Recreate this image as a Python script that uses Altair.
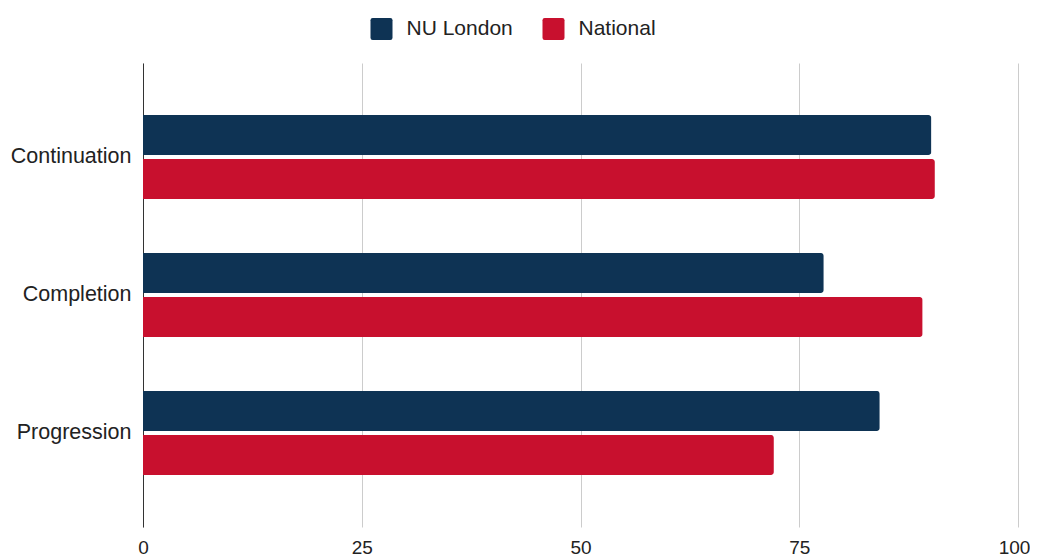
import altair as alt
import pandas as pd

categories = ["Continuation", "Completion", "Progression"]
series = ["NU London", "National"]
nu_london = [90.1, 77.8, 84.2]
national = [90.5, 89.1, 72.1]
colors = ["#0E3354", "#C8102E"]
x_ticks = [0, 25, 50, 75, 100]

rows = []
for i, c in enumerate(categories):
    rows.append({"metric": c, "series": series[0], "value": nu_london[i]})
    rows.append({"metric": c, "series": series[1], "value": national[i]})
df = pd.DataFrame(rows)

rounded_square = ("M-0.8,-1 L0.8,-1 Q1,-1 1,-0.8 L1,0.8 Q1,1 0.8,1 "
                  "L-0.8,1 Q-1,1 -1,0.8 L-1,-0.8 Q-1,-1 -0.8,-1 Z")

FONT = "Liberation Sans"

chart = alt.Chart(df).mark_bar(cornerRadiusEnd=3).encode(
    y=alt.Y(
        "metric:N", sort=categories, title=None,
        scale=alt.Scale(paddingInner=0.391, paddingOuter=0.377),
        axis=alt.Axis(labelFontSize=21.5, labelColor="#222222", labelPadding=12,
                      ticks=False, domainColor="#333333", domainWidth=1,
                      labelFont=FONT, grid=False),
    ),
    yOffset=alt.YOffset(
        "series:N", sort=series,
        scale=alt.Scale(domain=series, paddingInner=0.0909, paddingOuter=0),
    ),
    x=alt.X(
        "value:Q", title=None,
        scale=alt.Scale(domain=[0, 100], nice=False),
        axis=alt.Axis(values=x_ticks, grid=True, gridColor="#cccccc", gridWidth=1,
                      domain=False, ticks=False, labelFontSize=19,
                      labelColor="#222222", labelPadding=11, labelFont=FONT,
                      labelFlush=False,
                      labelOffset={"condition": {"test": "datum.value == 100", "value": -4},
                                   "value": 0}),
    ),
    color=alt.Color(
        "series:N", sort=series,
        scale=alt.Scale(domain=series, range=colors),
        legend=alt.Legend(
            title=None, orient="none", legendX=227.5, legendY=-45,
            direction="horizontal", symbolType=rounded_square, symbolSize=484,
            symbolStrokeWidth=0, labelFontSize=21, labelFont=FONT,
            labelColor="#222222", labelOffset=14, columnPadding=29,
        ),
    ),
).properties(
    width=875, height=464,
    padding={"left": 135, "top": 55, "right": 12, "bottom": 32},
    autosize=alt.AutoSizeParams(type="none"),
).configure_view(stroke=None)

chart.save("out.html", embed_options={"renderer": "svg", "actions": False})
